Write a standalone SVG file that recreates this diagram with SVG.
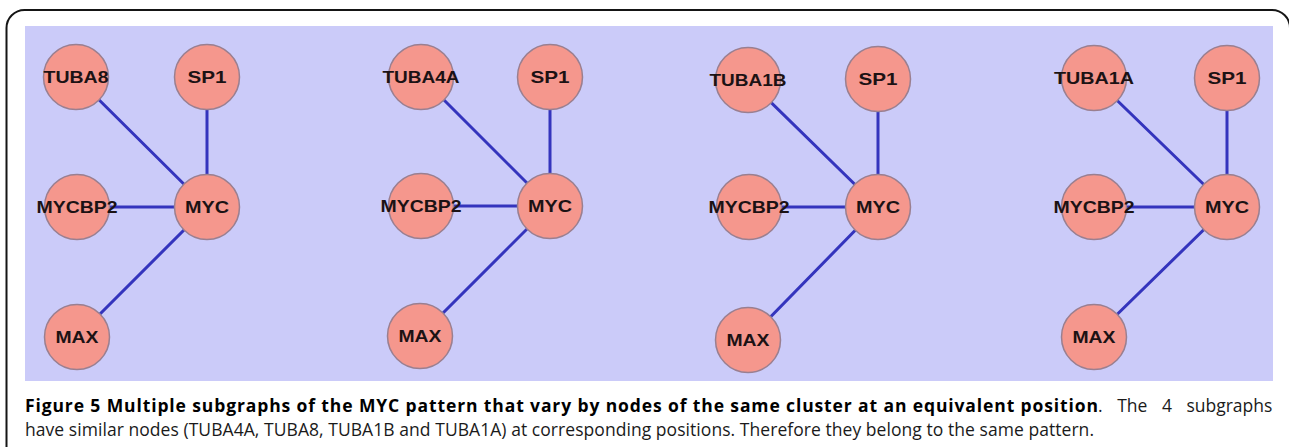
<svg xmlns="http://www.w3.org/2000/svg" width="1289" height="447" viewBox="0 0 1289 447">
  <style>
    .frame { fill: none; stroke: #151515; stroke-width: 2; }
    .bg { fill: #cbcbf9; }
    .edge { stroke: #3434bd; stroke-width: 3; stroke-linecap: round; }
    .node circle { fill: #f5978d; stroke: #9a7f90; stroke-width: 1.5; }
    .node text { font-family: "Liberation Sans", Arial, sans-serif; font-weight: bold; font-size: 17px; fill: #1c1214; text-anchor: middle; }
    .cap { font-family: "Open Sans", "Noto Sans", sans-serif; font-size: 17.5px; fill: #1a1a1a; }
    .cap.b { font-weight: bold; fill: #000; }
  </style>

  <!-- page frame with rounded top corners -->
  <path class="frame" d="M6.5,447 V28 A18,18 0 0 1 24.5,10 H1272 A18,18 0 0 1 1290,28 V447"/>

  <!-- shared panel background -->
  <rect class="bg" x="25" y="26" width="1248" height="355"/>

  <!-- connectors -->
  <g id="edges">
    <!-- panel 1 -->
    <line class="edge" x1="76" y1="77" x2="207" y2="207"/>
    <line class="edge" x1="207" y1="77" x2="207" y2="207"/>
    <line class="edge" x1="77" y1="207" x2="207" y2="207"/>
    <line class="edge" x1="77" y1="337" x2="207" y2="207"/>
    <!-- panel 2 -->
    <line class="edge" x1="421" y1="77" x2="550" y2="206"/>
    <line class="edge" x1="550" y1="77" x2="550" y2="206"/>
    <line class="edge" x1="421" y1="206" x2="550" y2="206"/>
    <line class="edge" x1="420" y1="336" x2="550" y2="206"/>
    <!-- panel 3 -->
    <line class="edge" x1="748" y1="80" x2="878" y2="207"/>
    <line class="edge" x1="878" y1="79" x2="878" y2="207"/>
    <line class="edge" x1="749" y1="207" x2="878" y2="207"/>
    <line class="edge" x1="748" y1="340" x2="878" y2="207"/>
    <!-- panel 4 -->
    <line class="edge" x1="1094" y1="78" x2="1227" y2="207"/>
    <line class="edge" x1="1227" y1="78" x2="1227" y2="207"/>
    <line class="edge" x1="1094" y1="207" x2="1227" y2="207"/>
    <line class="edge" x1="1094" y1="337" x2="1227" y2="207"/>
  </g>

  <!-- panel 1 nodes -->
  <g id="p1-tuba8" class="node"><circle cx="76" cy="77" r="32.5"/><text x="76" y="83" textLength="65" lengthAdjust="spacingAndGlyphs">TUBA8</text></g>
  <g id="p1-sp1" class="node"><circle cx="207" cy="77" r="32.5"/><text x="207" y="83" textLength="39" lengthAdjust="spacingAndGlyphs">SP1</text></g>
  <g id="p1-mycbp2" class="node"><circle cx="77" cy="207" r="32.5"/><text x="77" y="213" textLength="81" lengthAdjust="spacingAndGlyphs">MYCBP2</text></g>
  <g id="p1-myc" class="node"><circle cx="207" cy="207" r="32.5"/><text x="207" y="213" textLength="44" lengthAdjust="spacingAndGlyphs">MYC</text></g>
  <g id="p1-max" class="node"><circle cx="77" cy="337" r="32.5"/><text x="77" y="343" textLength="43" lengthAdjust="spacingAndGlyphs">MAX</text></g>

  <!-- panel 2 nodes -->
  <g id="p2-tuba4a" class="node"><circle cx="421" cy="77" r="32.5"/><text x="421" y="83" textLength="77" lengthAdjust="spacingAndGlyphs">TUBA4A</text></g>
  <g id="p2-sp1" class="node"><circle cx="550" cy="77" r="32.5"/><text x="550" y="83" textLength="39" lengthAdjust="spacingAndGlyphs">SP1</text></g>
  <g id="p2-mycbp2" class="node"><circle cx="421" cy="206" r="32.5"/><text x="421" y="212" textLength="81" lengthAdjust="spacingAndGlyphs">MYCBP2</text></g>
  <g id="p2-myc" class="node"><circle cx="550" cy="206" r="32.5"/><text x="550" y="212" textLength="44" lengthAdjust="spacingAndGlyphs">MYC</text></g>
  <g id="p2-max" class="node"><circle cx="420" cy="336" r="32.5"/><text x="420" y="342" textLength="43" lengthAdjust="spacingAndGlyphs">MAX</text></g>

  <!-- panel 3 nodes -->
  <g id="p3-tuba1b" class="node"><circle cx="748" cy="80" r="32.5"/><text x="748" y="86" textLength="77" lengthAdjust="spacingAndGlyphs">TUBA1B</text></g>
  <g id="p3-sp1" class="node"><circle cx="878" cy="79" r="32.5"/><text x="878" y="85" textLength="39" lengthAdjust="spacingAndGlyphs">SP1</text></g>
  <g id="p3-mycbp2" class="node"><circle cx="749" cy="207" r="32.5"/><text x="749" y="213" textLength="81" lengthAdjust="spacingAndGlyphs">MYCBP2</text></g>
  <g id="p3-myc" class="node"><circle cx="878" cy="207" r="32.5"/><text x="878" y="213" textLength="44" lengthAdjust="spacingAndGlyphs">MYC</text></g>
  <g id="p3-max" class="node"><circle cx="748" cy="340" r="32.5"/><text x="748" y="346" textLength="43" lengthAdjust="spacingAndGlyphs">MAX</text></g>

  <!-- panel 4 nodes -->
  <g id="p4-tuba1a" class="node"><circle cx="1094" cy="78" r="32.5"/><text x="1094" y="84" textLength="80" lengthAdjust="spacingAndGlyphs">TUBA1A</text></g>
  <g id="p4-sp1" class="node"><circle cx="1227" cy="78" r="32.5"/><text x="1227" y="84" textLength="39" lengthAdjust="spacingAndGlyphs">SP1</text></g>
  <g id="p4-mycbp2" class="node"><circle cx="1094" cy="207" r="32.5"/><text x="1094" y="213" textLength="81" lengthAdjust="spacingAndGlyphs">MYCBP2</text></g>
  <g id="p4-myc" class="node"><circle cx="1227" cy="207" r="32.5"/><text x="1227" y="213" textLength="44" lengthAdjust="spacingAndGlyphs">MYC</text></g>
  <g id="p4-max" class="node"><circle cx="1094" cy="337" r="32.5"/><text x="1094" y="343" textLength="43" lengthAdjust="spacingAndGlyphs">MAX</text></g>

  <!-- caption: justified first line, ragged second line -->
  <text class="cap b" x="25" y="412" textLength="1073" lengthAdjust="spacing">Figure 5 Multiple subgraphs of the MYC pattern that vary by nodes of the same cluster at an equivalent position</text>
  <text class="cap" x="1098" y="412" word-spacing="10">. The 4 subgraphs</text>
  <text class="cap" x="25" y="436" textLength="1069" lengthAdjust="spacing">have similar nodes (TUBA4A, TUBA8, TUBA1B and TUBA1A) at corresponding positions. Therefore they belong to the same pattern.</text>
</svg>
